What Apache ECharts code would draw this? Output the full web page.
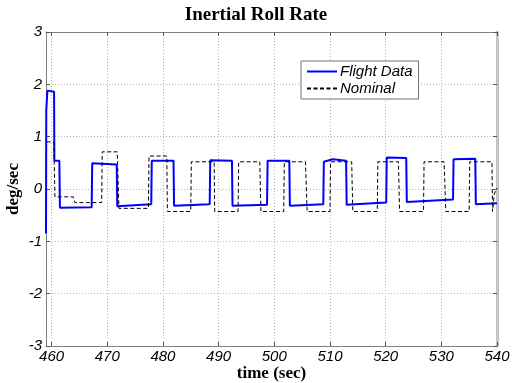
<!DOCTYPE html>
<html>
<head>
<meta charset="utf-8">
<script src="https://cdn.jsdelivr.net/npm/echarts@6/dist/echarts.min.js"></script>
<style>
  html, body { margin: 0; padding: 0; background: #fff; }
  #chart { width: 512px; height: 383px; }
</style>
</head>
<body>
<div id="chart"></div>
<script>
// Inertial roll rate: measured flight data versus the nominal step profile.
const flightTime = [459.0, 459.05, 459.25, 460.45, 460.5, 461.4, 461.5, 467.2, 467.3, 471.7, 471.8,
  477.9, 478.0, 481.9, 482.0, 488.4, 488.5, 492.4, 492.5, 498.7, 498.8, 502.7, 502.8, 508.8, 508.9,
  510.5, 512.9, 513.0, 520.1, 520.2, 523.7, 523.8, 532.1, 532.2, 536.1, 536.2, 540.0];
const flightRate = [-0.85, 1.5, 1.88, 1.86, 0.54, 0.54, -0.36, -0.35, 0.49, 0.47, -0.33,
  -0.29, 0.54, 0.54, -0.32, -0.29, 0.55, 0.54, -0.32, -0.30, 0.54, 0.54, -0.32, -0.29, 0.52,
  0.57, 0.54, -0.30, -0.26, 0.60, 0.59, -0.25, -0.20, 0.57, 0.58, -0.29, -0.27];

const nominalTime = [459.1, 460.4, 460.6, 463.9, 464.2, 469.0, 469.1, 471.8, 472.1, 477.4, 477.5,
  480.7, 480.8, 485.0, 485.1, 489.2, 489.3, 493.5, 493.6, 497.4, 497.6, 501.7, 501.8, 505.6, 505.9,
  510.0, 510.1, 513.9, 514.1, 518.5, 518.6, 522.3, 522.5, 526.8, 526.9, 530.5, 530.8, 535.0, 535.1,
  539.1, 539.2, 539.5, 540.0];
const nominalRate = [0.9, 0.9, -0.15, -0.15, -0.26, -0.26, 0.71, 0.71, -0.37, -0.37, 0.63,
  0.63, -0.43, -0.43, 0.52, 0.52, -0.43, -0.43, 0.52, 0.52, -0.43, -0.43, 0.52, 0.52, -0.43,
  -0.43, 0.52, 0.52, -0.43, -0.43, 0.52, 0.52, -0.43, -0.43, 0.52, 0.52, -0.43, -0.43, 0.52,
  0.52, -0.43, -0.1, 0.02];

const timeTicks = [460, 470, 480, 490, 500, 510, 520, 530, 540];
const timeMin = 459, timeMax = 540;
const rateMin = -3, rateMax = 3, rateStep = 1;

const pairs = (xs, ys) => xs.map((x, i) => [x, ys[i]]);

const tickFont = { fontFamily: 'Liberation Sans, Arial, sans-serif', fontStyle: 'italic', fontSize: 15, color: '#000' };
const nameFont = { fontFamily: 'Liberation Serif, Times New Roman, serif', fontWeight: 'bold', fontSize: 17, color: '#000' };
const gridLine = { show: true, lineStyle: { color: '#b5b5b5', width: 1, type: [1, 2] } };
const frameLine = { show: true, onZero: false, lineStyle: { color: '#808080', width: 1 } };
const innerTick = { show: true, inside: true, length: 4, lineStyle: { color: '#555' } };

const chart = echarts.init(document.getElementById('chart'), null, { renderer: 'canvas' });
chart.setOption({
  animation: false,
  backgroundColor: '#fff',
  title: {
    text: 'Inertial Roll Rate',
    left: 'center',
    top: 1,
    textStyle: { fontFamily: 'Liberation Serif, Times New Roman, serif', fontWeight: 'bold', fontSize: 19, color: '#000' }
  },
  grid: { left: 46, right: 15, top: 32, bottom: 37, containLabel: false, outerBoundsMode: 'none' },
  legend: {
    orient: 'vertical',
    left: 301,
    top: 61,
    padding: [3, 6, 3, 5],
    itemGap: 2,
    itemWidth: 30,
    itemHeight: 14,
    backgroundColor: '#fff',
    borderColor: '#707070',
    borderWidth: 1,
    borderRadius: 0,
    itemStyle: { opacity: 0 },
    textStyle: { fontFamily: 'Liberation Sans, Arial, sans-serif', fontStyle: 'italic', fontSize: 15, color: '#000', padding: [0, 0, 0, -2] },
    data: ['Flight Data', 'Nominal']
  },
  xAxis: [{
    type: 'value',
    min: timeMin,
    max: timeMax,
    position: 'bottom',
    name: 'time (sec)',
    nameLocation: 'middle',
    nameGap: 19,
    nameMoveOverlap: false,
    nameTextStyle: nameFont,
    axisLine: frameLine,
    axisTick: Object.assign({}, innerTick, { customValues: timeTicks }),
    axisLabel: Object.assign({}, tickFont, { customValues: timeTicks, margin: 3 }),
    splitLine: gridLine
  }, {
    type: 'value',
    min: timeMin,
    max: timeMax,
    position: 'top',
    axisLine: frameLine,
    axisTick: Object.assign({}, innerTick, { customValues: timeTicks }),
    axisLabel: { show: false },
    splitLine: { show: false }
  }],
  yAxis: [{
    type: 'value',
    min: rateMin,
    max: rateMax,
    interval: rateStep,
    position: 'left',
    name: 'deg/sec',
    nameLocation: 'middle',
    nameGap: 24,
    nameMoveOverlap: false,
    nameTextStyle: nameFont,
    axisLine: frameLine,
    axisTick: innerTick,
    axisLabel: Object.assign({}, tickFont, { margin: 4 }),
    splitLine: gridLine
  }, {
    type: 'value',
    min: rateMin,
    max: rateMax,
    interval: rateStep,
    position: 'right',
    axisLine: { show: true, onZero: false, lineStyle: { color: '#c4c4c4', width: 3 } },
    axisTick: innerTick,
    axisLabel: { show: false },
    splitLine: { show: false }
  }],
  series: [{
    name: 'Nominal',
    type: 'line',
    xAxisIndex: 0,
    yAxisIndex: 0,
    data: pairs(nominalTime, nominalRate),
    showSymbol: false,
    symbol: 'none',
    clip: true,
    z: 3,
    lineStyle: { color: '#000', width: 1, type: [4, 2.5] },
    itemStyle: { color: '#000' }
  }, {
    name: 'Flight Data',
    type: 'line',
    xAxisIndex: 0,
    yAxisIndex: 0,
    data: pairs(flightTime, flightRate),
    showSymbol: false,
    symbol: 'none',
    clip: true,
    z: 2,
    lineStyle: { color: '#0000ff', width: 2 },
    itemStyle: { color: '#0000ff' }
  }]
});
</script>
</body>
</html>
